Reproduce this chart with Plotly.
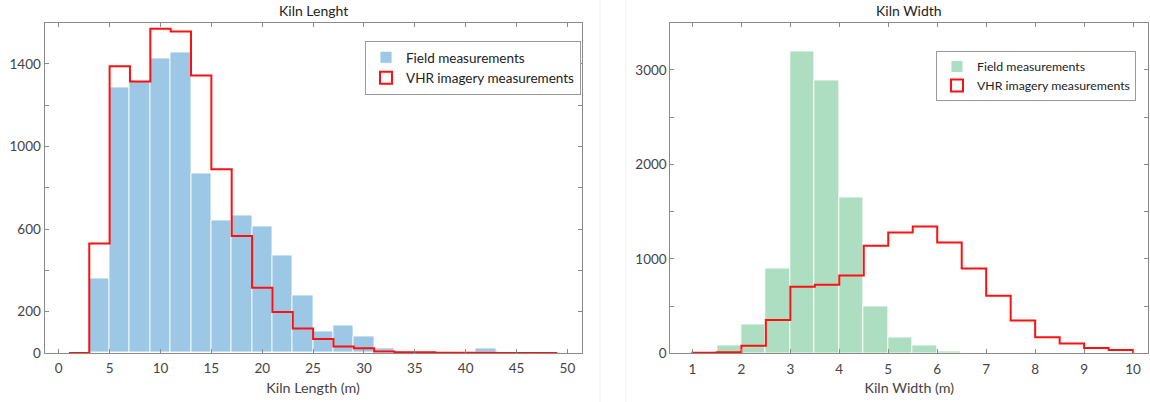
import plotly.graph_objects as go

# ---------------- data ----------------
# Kiln length (bin width 2 m)
len_field_start = 3
len_bin_w = 2
len_field_counts = [360, 1285, 1312, 1425, 1454, 867, 640, 667, 611, 472, 276, 106, 135, 79, 23, 5, 2, 2, 2, 23, 0, 0, 0]
len_vhr_start = 1
len_vhr_counts = [0, 530, 1388, 1315, 1570, 1557, 1343, 890, 566, 316, 198, 118, 68, 32, 23, 7, 4, 3, 1, 1, 1, 0, 0, 0]

# Kiln width (bin width 0.5 m)
wid_field_start = 1.5
wid_bin_w = 0.5
wid_field_counts = [80, 306, 893, 3189, 2883, 1647, 499, 165, 80, 24]
wid_vhr_start = 1
wid_vhr_counts = [5, 10, 80, 352, 703, 725, 823, 1137, 1278, 1341, 1172, 897, 608, 348, 169, 105, 56, 35]

len_xticks = [0, 5, 10, 15, 20, 25, 30, 35, 40, 45, 50]
len_yticks = [0, 200, 400, 600, 800, 1000, 1200, 1400]
len_ytext = ["0", "200", "", "600", "", "1000", "", "1400"]
wid_xticks = [1, 2, 3, 4, 5, 6, 7, 8, 9, 10]
wid_yticks = [0, 500, 1000, 1500, 2000, 2500, 3000]
wid_ytext = ["0", "", "1000", "", "2000", "", "3000"]

titles = ["Kiln Lenght", "Kiln Width"]
xtitles = ["Kiln Length (m)", "Kiln Width (m)"]
names = ["Field measurements", "VHR imagery measurements"]

BLUE = "#9CC7E5"
GREEN = "#AEDEC1"
RED = "#FF1010"
FONT = "Lato"


def bar_centers(start, w, counts):
    return [start + w * i + w / 2 for i in range(len(counts))]


def stairs(start, w, counts):
    edges = [start + w * i for i in range(len(counts) + 1)]
    x = [edges[0]] + edges[:-1] + [edges[-1], edges[-1]]
    y = [0] + list(counts) + [counts[-1], 0]
    return x, y


fig = go.Figure()

panels = [
    dict(fs=len_field_start, fc=len_field_counts, vs=len_vhr_start, vc=len_vhr_counts,
         w=len_bin_w, color=BLUE, xa="x", ya="y", lg="legend"),
    dict(fs=wid_field_start, fc=wid_field_counts, vs=wid_vhr_start, vc=wid_vhr_counts,
         w=wid_bin_w, color=GREEN, xa="x2", ya="y2", lg="legend2"),
]

for p in panels:
    fig.add_trace(go.Bar(
        x=bar_centers(p["fs"], p["w"], p["fc"]), y=p["fc"], width=p["w"],
        marker=dict(color=p["color"], line=dict(color="rgba(255,255,255,0.85)", width=1)),
        name=names[0], xaxis=p["xa"], yaxis=p["ya"], legend=p["lg"], hoverinfo="skip"))
    sx, sy = stairs(p["vs"], p["w"], p["vc"])
    fig.add_trace(go.Scatter(
        x=sx, y=sy, mode="lines", line=dict(color=RED, width=2, shape="hv"),
        showlegend=False, xaxis=p["xa"], yaxis=p["ya"], hoverinfo="skip"))
    # legend proxy (outlined patch)
    fig.add_trace(go.Bar(
        x=[None], y=[None], name=names[1],
        marker=dict(color="rgba(255,255,255,0)", line=dict(color=RED, width=2)),
        xaxis=p["xa"], yaxis=p["ya"], legend=p["lg"], showlegend=True))

axis_common = dict(
    showline=True, linecolor="#8a8a8a", linewidth=1, mirror="ticks",
    ticks="inside", ticklen=4, tickcolor="#8a8a8a", showgrid=False, zeroline=False,
    automargin=False,
    tickfont=dict(family=FONT, size=13.5, color="#444"),
)

legend_common = dict(
    xanchor="left", yanchor="top", bordercolor="#9a9a9a", borderwidth=1, bgcolor="white",
    tracegroupgap=0, itemwidth=30,
)

fig.update_layout(
    width=1150, height=402,
    margin=dict(l=0, r=0, t=0, b=0, autoexpand=False),
    paper_bgcolor="white", plot_bgcolor="white",
    barmode="overlay", bargap=0,
    font=dict(family=FONT, size=13, color="#333"),
    xaxis=dict(domain=[0.0387, 0.5058], range=[-1.4, 51.4], tickvals=len_xticks,
               ticklabelstandoff=3,
               title=dict(text=xtitles[0], standoff=7, font=dict(family=FONT, size=14.3, color="#444")),
               anchor="y", **axis_common),
    yaxis=dict(domain=[0.1219, 0.944], range=[0, 1600], tickvals=len_yticks, ticktext=len_ytext,
               anchor="x", **axis_common),
    xaxis2=dict(domain=[0.5829, 0.9985], range=[0.55, 10.31], tickvals=wid_xticks,
                ticklabelstandoff=3,
                title=dict(text=xtitles[1], standoff=7, font=dict(family=FONT, size=14.3, color="#444")),
                anchor="y2", **axis_common),
    yaxis2=dict(domain=[0.1211, 0.944], range=[0, 3500], tickvals=wid_yticks, ticktext=wid_ytext,
                anchor="x2", **axis_common),
    legend=dict(x=365 / 1150, y=(402 - 41) / 402,
                font=dict(family=FONT, size=13.5, color="#222"), **legend_common),
    legend2=dict(x=936 / 1150, y=(402 - 51) / 402,
                 font=dict(family=FONT, size=12.3, color="#222"), **legend_common),
    annotations=[
        dict(text=titles[0], x=0.2722, y=(402 - 10.5) / 402, xref="paper", yref="paper",
             xanchor="center", yanchor="middle", showarrow=False,
             font=dict(family=FONT, size=14, color="#222")),
        dict(text=titles[1], x=0.7907, y=(402 - 10.5) / 402, xref="paper", yref="paper",
             xanchor="center", yanchor="middle", showarrow=False,
             font=dict(family=FONT, size=14, color="#222")),
    ],
    shapes=[
        dict(type="line", xref="paper", yref="paper", x0=0.5217, x1=0.5217, y0=0, y1=1,
             line=dict(color="#f0f0f0", width=1)),
        dict(type="line", xref="paper", yref="paper", x0=0.5441, x1=0.5441, y0=0, y1=1,
             line=dict(color="#f0f0f0", width=1)),
    ],
)

fig.write_html("out.html", config={"displayModeBar": False},
               post_script="document.body.style.margin='0';")
